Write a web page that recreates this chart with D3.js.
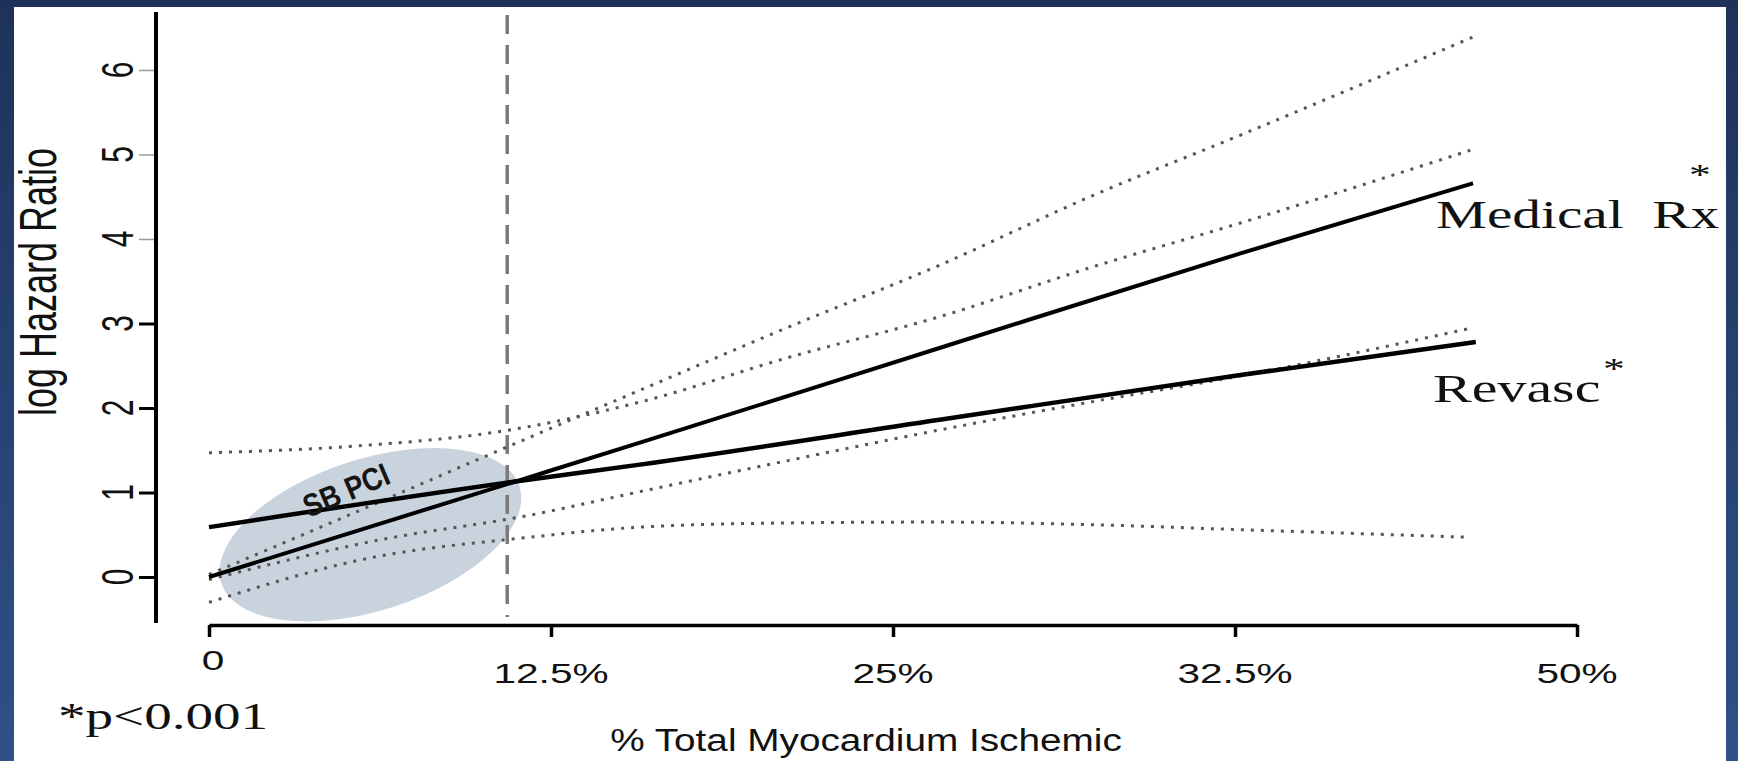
<!DOCTYPE html>
<html>
<head>
<meta charset="utf-8">
<script src="https://cdn.jsdelivr.net/npm/d3@7"></script>
<style>
  html, body { margin: 0; padding: 0; overflow: hidden; background: #27437a; }
  svg { display: block; }
</style>
</head>
<body>
<div id="main"></div>
<script>
// % myocardium ischemic on x, log hazard ratio on y
const xTicks = [0, 12.5, 25, 37.5, 50];
const xTickLabels = ["0", "12.5%", "25%", "32.5%", "50%"];
const yTicks = [0, 1, 2, 3, 4, 5, 6];

const medicalRx = [[0, 0], [11.4, 1.15], [15.75, 1.59], [26.7, 2.71], [37.7, 3.83], [46.2, 4.66]];
const revasc = [[0, 0.59], [11.4, 1.14], [15.75, 1.33], [26.7, 1.86], [37.7, 2.39], [46.3, 2.78]];

const medicalUpper = [[0, 0.03], [4.3, 0.62], [10.4, 1.47], [15.75, 2.21], [21.2, 2.96], [26.7, 3.69], [32.2, 4.5], [37.7, 5.23], [46.2, 6.39]];
const medicalLower = [[0, -0.03], [6.25, 0.44], [11.7, 0.73], [15.75, 1.01], [21.2, 1.38], [26.7, 1.74], [32.2, 2.07], [37.7, 2.38], [46.2, 2.95]];
const revascUpper = [[0, 1.47], [5.8, 1.56], [10.6, 1.72], [15.75, 2.07], [21.2, 2.6], [26.7, 3.08], [32.2, 3.66], [37.7, 4.19], [46.1, 5.05]];
const revascLower = [[0, -0.3], [5.8, 0.22], [11.7, 0.47], [15.75, 0.59], [21.2, 0.64], [26.7, 0.65], [32.2, 0.62], [37.7, 0.56], [46.1, 0.47]];

const cutoff = 10.9;          // dashed vertical line
const sbCenter = [5.9, 0.5];  // centre of the SB PCI oval

const width = 1738;
const height = 761;
const SX = 1.45; // the scanned figure is stretched sideways
const sans = "'Liberation Sans', Arial, sans-serif";
const serif = "'Liberation Serif', 'Times New Roman', serif";

const svg = d3.select("#main")
  .append("svg")
  .attr("width", width)
  .attr("height", height);

const grad = svg.append("defs")
  .append("linearGradient")
  .attr("id", "bg")
  .attr("x1", 0).attr("y1", 0)
  .attr("x2", 0).attr("y2", 1);
grad.append("stop").attr("offset", "0%").attr("stop-color", "#1e3259");
grad.append("stop").attr("offset", "100%").attr("stop-color", "#2f5189");

svg.append("rect")
  .attr("width", width)
  .attr("height", height)
  .attr("fill", "url(#bg)");

svg.append("rect")
  .attr("x", 14)
  .attr("y", 7)
  .attr("width", 1712)
  .attr("height", height - 7)
  .attr("fill", "#fff");

const x = d3.scaleLinear().domain([0, 50]).range([209, 1577]);
const y = d3.scaleLinear().domain([0, 6]).range([577, 70]);

// stretched text helper
const label = (str, px, py, opts) => {
  const o = Object.assign({ size: 28, font: sans, anchor: "middle", rotate: 0, weight: "normal", sx: SX }, opts);
  let tr = `translate(${px},${py}) scale(${o.sx},1)`;
  if (o.rotate) tr += ` rotate(${o.rotate})`;
  return svg.append("text")
    .attr("transform", tr)
    .attr("text-anchor", o.anchor)
    .attr("font-family", o.font)
    .attr("font-size", o.size)
    .attr("font-weight", o.weight)
    .attr("fill", "#111")
    .style("white-space", "pre")
    .text(str);
};

// SB PCI oval (sits under the curves)
const sbx = x(sbCenter[0]);
const sby = y(sbCenter[1]);
svg.append("ellipse")
  .attr("cx", sbx)
  .attr("cy", sby)
  .attr("rx", 158)
  .attr("ry", 77)
  .attr("transform", `rotate(-18,${sbx},${sby})`)
  .attr("fill", "#c9d3de")
  .attr("stroke", "#fff")
  .attr("stroke-width", 2.5);

// y axis
const yAxis = svg.append("g")
  .attr("transform", "translate(156,0)")
  .call(d3.axisLeft(y).tickValues(yTicks).tickSize(17).tickFormat(""));
yAxis.select(".domain").remove();
yAxis.selectAll(".tick line")
  .attr("stroke", d => d >= 4 ? "#9a9a9a" : "#000")
  .attr("stroke-width", d => d >= 4 ? 1.5 : 3);
svg.append("line")
  .attr("x1", 156).attr("x2", 156)
  .attr("y1", 12).attr("y2", 623)
  .attr("stroke", "#000")
  .attr("stroke-width", 4);

yTicks.forEach(v => label(String(v), 133, y(v), { size: 30, rotate: -90 }));
label("log Hazard Ratio", 56, 282, { size: 36, rotate: -90 });

// x axis
const xAxis = svg.append("g")
  .attr("transform", "translate(0,625)")
  .call(d3.axisBottom(x).tickValues(xTicks).tickSize(12).tickSizeOuter(0).tickFormat(""));
xAxis.select(".domain").attr("stroke", "#000").attr("stroke-width", 3.5);
xAxis.selectAll(".tick line").attr("stroke", "#000").attr("stroke-width", 3.5);

xTicks.forEach((v, i) => {
  if (i === 0) label(xTickLabels[i], x(v) + 4, 670, { size: 28 });
  else label(xTickLabels[i], x(v), 683, { size: 28 });
});
label("% Total Myocardium Ischemic", 866, 751, { size: 31, sx: 1.25 });
label("*p<0.001", 58, 729, { size: 38, font: serif, anchor: "start" });

// dashed cut-off
svg.append("line")
  .attr("x1", x(cutoff)).attr("x2", x(cutoff))
  .attr("y1", 15).attr("y2", 617)
  .attr("stroke", "#7a7a7a")
  .attr("stroke-width", 3.5)
  .attr("stroke-dasharray", "19,11");

const line = d3.line()
  .x(d => x(d[0]))
  .y(d => y(d[1]))
  .curve(d3.curveMonotoneX);

[medicalUpper, medicalLower, revascUpper, revascLower].forEach(s => {
  svg.append("path")
    .attr("d", line(s))
    .attr("fill", "none")
    .attr("stroke", "#555")
    .attr("stroke-width", 3)
    .attr("stroke-dasharray", "3,7");
});

svg.append("path")
  .attr("d", line(medicalRx))
  .attr("fill", "none")
  .attr("stroke", "#000")
  .attr("stroke-width", 4);

svg.append("path")
  .attr("d", line(revasc))
  .attr("fill", "none")
  .attr("stroke", "#000")
  .attr("stroke-width", 4.5);

// curve labels
label("Medical  Rx", 1436, 228, { size: 39.5, font: serif, anchor: "start" });
label("*", 1700, 184, { size: 30, font: serif });
label("Revasc", 1433, 402, { size: 40, font: serif, anchor: "start" });
label("*", 1614, 378, { size: 30, font: serif });

svg.append("text")
  .attr("transform", `translate(346,490) rotate(-23) scale(0.85,1)`)
  .attr("text-anchor", "middle")
  .attr("dominant-baseline", "central")
  .attr("font-family", sans)
  .attr("font-weight", "bold")
  .attr("font-size", 32)
  .attr("fill", "#151515")
  .text("SB PCI");
</script>
</body>
</html>
